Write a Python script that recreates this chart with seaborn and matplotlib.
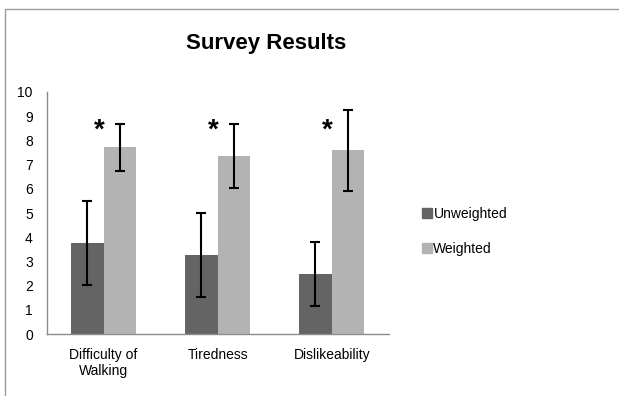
import matplotlib
matplotlib.use("Agg")
import matplotlib.pyplot as plt
import matplotlib.patches as mpatches
import pandas as pd
import seaborn as sns

categories = ["Difficulty of\nWalking", "Tiredness", "Dislikeability"]
groups = ["Unweighted", "Weighted"]
unweighted = [3.77, 3.28, 2.48]
weighted = [7.72, 7.34, 7.59]
unweighted_err = [1.73, 1.73, 1.31]
weighted_err = [0.97, 1.32, 1.67]
significant = [True, True, True]

colors = {"Unweighted": "#646464", "Weighted": "#b3b3b3"}

df = pd.DataFrame({
    "category": categories * 2,
    "group": ["Unweighted"] * 3 + ["Weighted"] * 3,
    "score": unweighted + weighted,
})

sns.set_style("white")
plt.rcParams["font.family"] = ["Liberation Sans", "DejaVu Sans"]
plt.rcParams["text.color"] = "black"
plt.rcParams["xtick.color"] = "black"
plt.rcParams["ytick.color"] = "black"

fig = plt.figure(figsize=(6.19, 3.96), dpi=100)
ax = fig.add_axes([0.0754, 0.156, 0.5526, 0.612])

sns.barplot(data=df, x="category", y="score", hue="group", palette=colors,
            width=0.57, errorbar=None, saturation=1, linewidth=0, ax=ax, legend=False)

# error bars at the bar centres
errs = {"Unweighted": unweighted_err, "Weighted": weighted_err}
for cont, g in zip(ax.containers, groups):
    xs = [b.get_x() + b.get_width() / 2 for b in cont]
    hs = [b.get_height() for b in cont]
    ax.errorbar(xs, hs, yerr=errs[g], fmt="none", ecolor="black",
                elinewidth=1.5, capsize=3.8, capthick=1.5)

for i, sig in enumerate(significant):
    if sig:
        ax.text(i - 0.04, 8.1, "*", ha="center", va="baseline",
                fontsize=20, fontweight="bold")

ax.set_ylim(0, 10)
ax.set_xlim(-0.5, 2.5)
ax.set_yticks(range(0, 11))
ax.set_xlabel("")
ax.set_ylabel("")
ax.tick_params(axis="y", length=0, pad=10, labelsize=10)
ax.tick_params(axis="x", length=0, pad=10, labelsize=10)
for s in ["top", "right"]:
    ax.spines[s].set_visible(False)
for s in ["left", "bottom"]:
    ax.spines[s].set_color("#8c8c8c")
    ax.spines[s].set_linewidth(1.0)

fig.text(266 / 619, 1 - 43 / 396, "Survey Results", ha="center", va="center",
         fontsize=16, fontweight="bold")

handles = [mpatches.Patch(color=colors[g], label=g) for g in groups]
fig.legend(handles=handles, loc="upper left", bbox_to_anchor=(0.671, 1 - 200 / 396),
           frameon=False, fontsize=10, handlelength=0.7, handleheight=0.7,
           handletextpad=0.1, labelspacing=1.5, borderpad=0)

# outer chart frame
fig.patches.append(mpatches.Rectangle((5 / 619, -0.1), 1.2, 1 - 9 / 396 + 0.1,
                                      transform=fig.transFigure, fill=False,
                                      edgecolor="#9a9a9a", linewidth=1.0))

fig.savefig("out.png", dpi=100)
